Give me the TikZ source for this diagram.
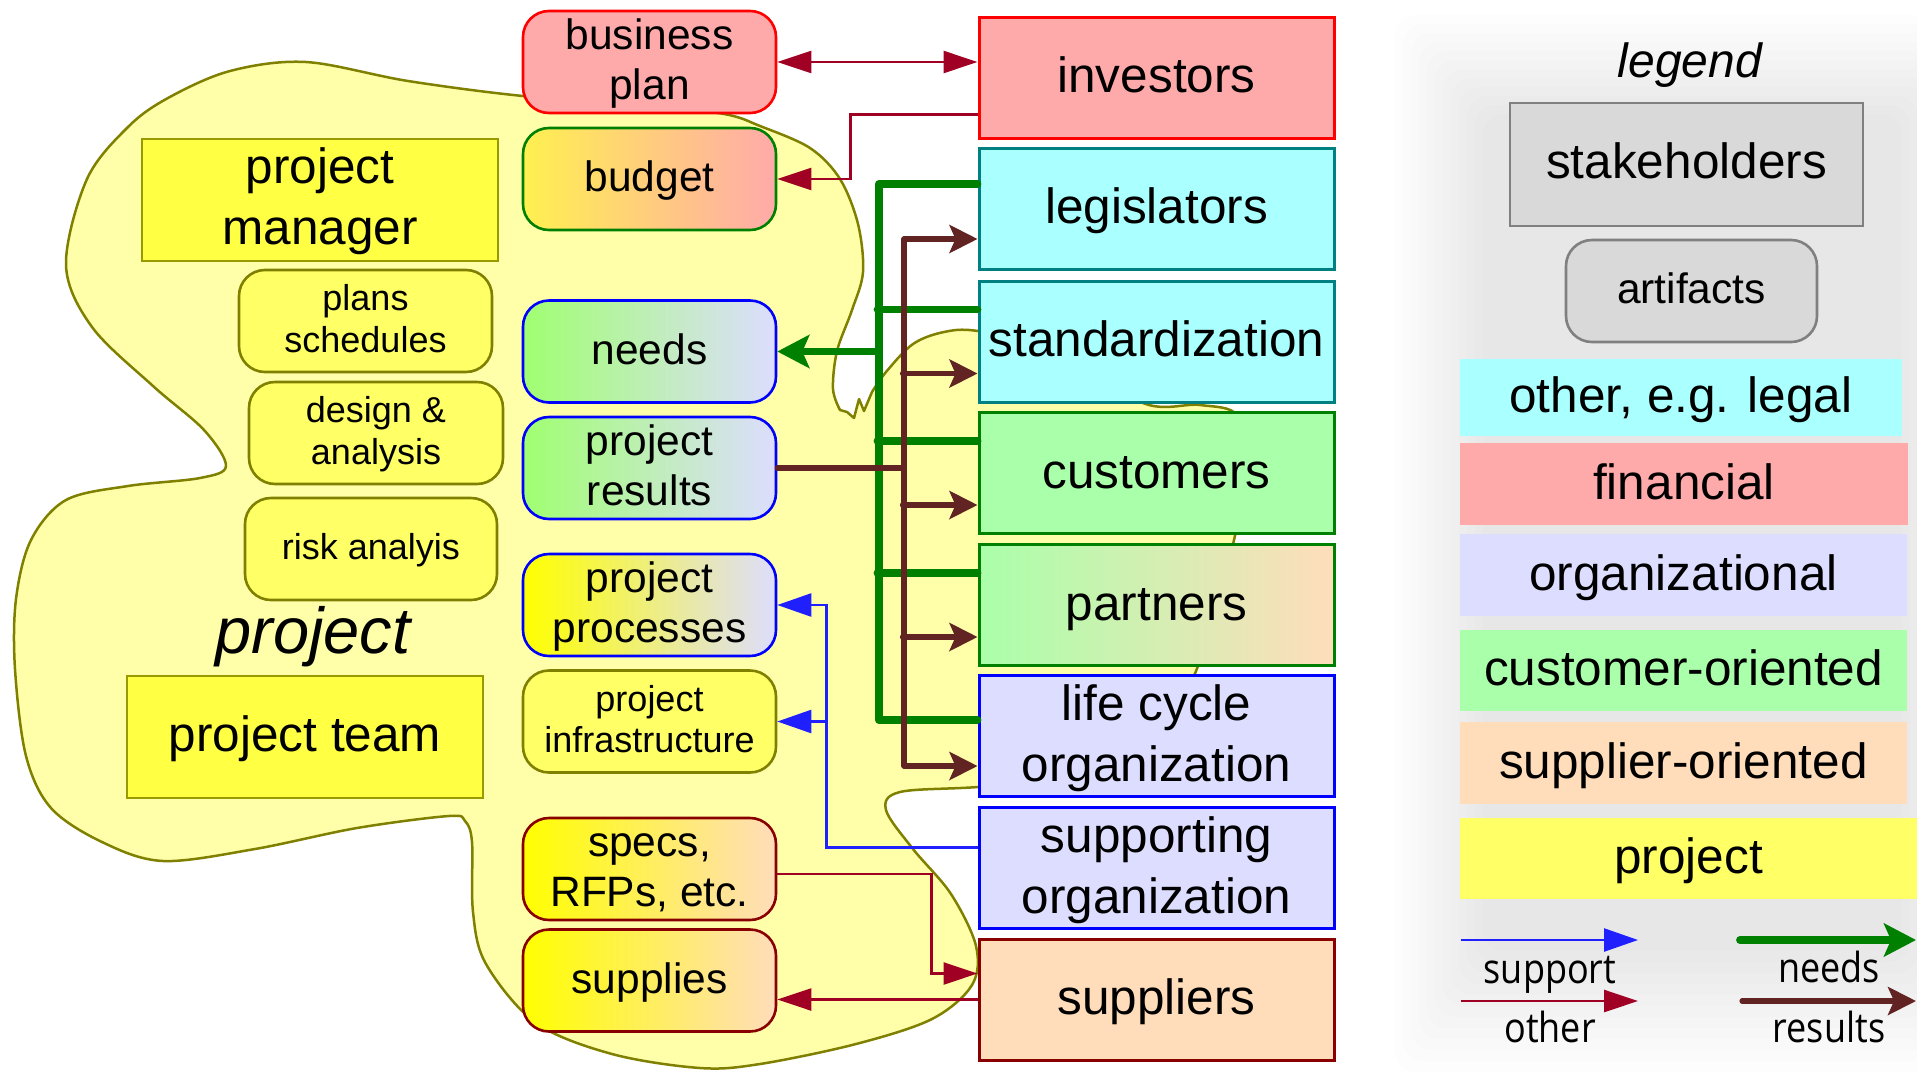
\documentclass[tikz,border=0pt]{standalone}
\usepackage{fontspec}
\usepackage{graphicx}
\setmainfont{Liberation Sans}
\newfontfamily\legfont{Open Sans}
\usetikzlibrary{arrows.meta,calc}
\definecolor{cPink}{HTML}{FFAAAA}
\definecolor{cRed}{HTML}{FF0000}
\definecolor{cCyan}{HTML}{AAFFFF}
\definecolor{cTeal}{HTML}{008080}
\definecolor{cLGreen}{HTML}{AAFFAA}
\definecolor{cGreen}{HTML}{008000}
\definecolor{cPeach}{HTML}{FFDDBB}
\definecolor{cLav}{HTML}{DDDDFF}
\definecolor{cBlue}{HTML}{0000FF}
\definecolor{cDRed}{HTML}{880000}
\definecolor{cBudL}{HTML}{FFF050}
\definecolor{cNeedL}{HTML}{A0FF70}
\definecolor{cYellow}{HTML}{FFFF00}
\definecolor{cYelA}{HTML}{FFFF66}
\definecolor{cYelB}{HTML}{FFFF44}
\definecolor{cOlive}{HTML}{808000}
\definecolor{cOliveB}{HTML}{999900}
\definecolor{cBlob}{HTML}{FFFFAA}
\definecolor{cOther}{RGB}{160,0,35}
\definecolor{cSup}{HTML}{2020FF}
\definecolor{cRes}{RGB}{98,36,34}
\definecolor{cGrayF}{HTML}{D9D9D9}
\definecolor{cGrayD}{HTML}{808080}
\newcommand\fsStake{\fontsize{49.5pt}{61pt}\selectfont}
\newcommand\fsArt{\fontsize{42.5pt}{50pt}\selectfont}
\newcommand\fsSmall{\fontsize{36pt}{41.5pt}\selectfont}
\newcommand\fsLeg{\legfont\fontsize{36pt}{40pt}\selectfont}
% fixed line metrics so that text is centred like the reference
\newcommand\stkT{\rule{0pt}{41pt}}\newcommand\stkB{\rule[-11pt]{0pt}{0pt}}
\newcommand\artT{\rule{0pt}{36pt}}\newcommand\artB{\rule[-11pt]{0pt}{0pt}}
\newcommand\smlT{\rule{0pt}{31pt}}\newcommand\smlB{\rule[-10pt]{0pt}{0pt}}
\newcommand\pmT{\rule{0pt}{39pt}}\newcommand\pmB{\rule[-11pt]{0pt}{0pt}}
\begin{document}
\begin{tikzpicture}[x=1pt,y=-1pt,
  stake/.style={draw, line width=3pt, minimum width=355pt, minimum height=121pt, inner sep=0pt, align=center, font=\fsStake},
  art/.style={draw, line width=2.6pt, rounded corners=26pt, minimum width=253pt, minimum height=102pt, inner sep=0pt, align=center, font=\fsArt},
  smallart/.style={art, font=\fsSmall, fill=cYelA, draw=cOlive},
  pbox/.style={draw=cOliveB, fill=cYelB, line width=2.6pt, minimum width=356pt, minimum height=122pt, inner sep=0pt, align=center, font=\fsStake},
  lbox/.style={minimum width=447pt, minimum height=82pt, inner sep=0pt, font=\fsStake},
  otherarr/.style={draw=cOther, line width=2.5pt, -{Triangle[length=34pt,width=22pt]}},
  suparr/.style={draw=cSup, line width=2.5pt, -{Triangle[length=34pt,width=23pt]}},
  nline/.style={draw=cGreen, line width=7.8pt, line cap=round, line join=round},
  narr/.style={nline, -{Stealth[length=32pt,width=33pt,inset=7pt]}},
  rline/.style={draw=cRes, line width=5.2pt, line cap=round, line join=round},
  rarr/.style={rline, -{Stealth[length=28pt,width=28pt,inset=6pt]}},
  blob/.style={draw=cOlive, fill=cBlob, line width=2.5pt, line join=round},
  legtxt/.style={anchor=base, inner sep=0pt, font=\fsLeg}
]
\useasboundingbox (0,0) rectangle (1917,1074);
\clip (0,0) rectangle (1917,1074);
\fill[white] (0,0) rectangle (1917,1074);

% project blob
\draw[blob] plot[smooth, tension=0.55] coordinates {
 (872,392) (886,372) (913,344) (944,332) (978,331) (1060,348) (1143,403) (1200,405) (1238,416)
 (1247,470) (1234,540) (1215,610) (1196,671) (1160,740) (1080,778) (978,787) (900,792) (886,810)
 (913,849) (951,894) (976,946) (972,985) (932,1019) (856,1044) (760,1064) (700,1068) (612,1054)
 (536,1023) (486,964) (473,912) (472,842) (465,821) (449,816) (357,828) (255,849) (163,861)
 (102,842) (51,808) (26,756) (15,669) (16,599) (31,540) (66,500) (128,486) (200,478) (226,466)
 (204,430) (153,386) (92,327) (66,265) (87,179) (128,127) (168,98) (230,71) (306,62) (408,81)
 (523,96) (640,104) (724,114) (760,126) (810,148) (840,179) (858,224) (863,272) (852,310)
 (837,351) (833,389) (840,410)}
 -- (847,412) -- (854,418) -- (859,399) -- (864,411) -- cycle;

% legend panel glow
\foreach \i in {0,...,11} {
  \pgfmathsetmacro\xl{1395+\i*8}
  \pgfmathsetmacro\yt{15+\i*9}
  \pgfmathsetmacro\yb{1072-\i*11}
  \pgfmathsetmacro\xr{1990-\i*8}
  \fill[black, opacity=0.009, rounded corners=20pt] (\xl,\yt) rectangle (\xr,\yb);
}

% stakeholders
\node[stake, fill=cPink, draw=cRed] (inv) at (1156.5,77.5) {\stkT investors\stkB};
\node[stake, fill=cCyan, draw=cTeal] (legis) at (1156.5,208.5) {\stkT legislators\stkB};
\node[stake, fill=cCyan, draw=cTeal] (std) at (1156.5,341.5) {\stkT standardization\stkB};
\node[stake, fill=cLGreen, draw=cGreen] (cust) at (1156.5,473) {\stkT customers\stkB};
\node[stake, left color=cLGreen, right color=cPeach, draw=cGreen] (part) at (1156.5,605) {\stkT partners\stkB};
\node[stake, fill=cLav, draw=cBlue] (lco) at (1156.5,736) {\stkT life cycle\\organization\stkB};
\node[stake, fill=cLav, draw=cBlue] (supp) at (1156.5,867.5) {\stkT supporting\\organization\stkB};
\node[stake, fill=cPeach, draw=cDRed] (suppl) at (1156.5,999.5) {\stkT suppliers\stkB};

% artifacts
\node[art, fill=cPink, draw=cRed] (bplan) at (649.5,62) {\artT business\\plan\artB};
\node[art, left color=cBudL, right color=cPink, draw=cGreen] (budget) at (649.5,179) {\artT budget\artB};
\node[art, left color=cNeedL, right color=cLav, draw=cBlue] (needs) at (649.5,351.5) {\artT needs\artB};
\node[art, left color=cNeedL, right color=cLav, draw=cBlue] (pres) at (649.5,468) {\artT project\\results\artB};
\node[art, left color=cYellow, right color=cLav, draw=cBlue] (pproc) at (649.5,605) {\artT project\\processes\artB};
\node[smallart] (pinfra) at (649.5,721.5) {\smlT project\\infrastructure\smlB};
\node[art, left color=cYellow, right color=cPeach, draw=cDRed] (specs) at (649.5,869) {\artT specs,\\RFPs, etc.\artB};
\node[art, left color=cYellow, right color=cPeach, draw=cDRed] (supplies) at (649.5,980.5) {\artT supplies\artB};

\node[pbox] (pm) at (320,200) {\pmT project\\manager\pmB};
\node[smallart] (plans) at (365.5,321) {\smlT plans\\schedules\smlB};
\node[smallart, minimum width=254pt] (design) at (376,433) {\smlT design \&\\analysis\smlB};
\node[smallart, minimum width=252pt] (risk) at (371,549) {\smlT risk analyis\smlB};
\node[anchor=base, inner sep=0pt, font=\fontsize{65pt}{70pt}\selectfont\itshape] (plabel) at (313,653) {project};
\node[pbox] (team) at (305,737) {\pmT project team\pmB};

% connectors: other (financial)
\draw[otherarr, {Triangle[length=34pt,width=22pt]}-{Triangle[length=34pt,width=22pt]}] (bplan.east) -- (bplan.east -| inv.west);
\draw[otherarr] ([yshift=25pt]inv.south west) -- ++(-127,0) |- (budget.east);
\draw[otherarr] ([yshift=-5pt]specs.east) -- ++(154,0) |- ([yshift=-36pt]suppl.north west);
\draw[otherarr] (suppl.west) -- (suppl.west -| supplies.east);

% support
\draw[suparr] ([yshift=20pt]supp.west) -- ++(-151,0) coordinate (bc) |- (pproc.east);
\draw[suparr] (bc |- pinfra.east) -- (pinfra.east);

% needs bus
\coordinate (gT) at (879,184);
\coordinate (gB) at (879,720);
\draw[nline] (legis.west |- gT) -- (gT) -- (gB) -- (lco.west |- gB);
\draw[nline] ([yshift=-30pt]std.north west) -- ++(-100,0);
\draw[nline] ([yshift=-30pt]cust.north west) -- ++(-100,0);
\draw[nline] ([yshift=-30pt]part.north west) -- ++(-100,0);
\draw[narr] (gT |- needs.east) -- (needs.east);

% results bus
\coordinate (rT) at (904,239);
\coordinate (rB) at (904,766);
\draw[rline] (rT) -- (rB);
\draw[rline] (pres.east) -- (pres.east -| rT);
\draw[rarr] (rT) -- (legis.west |- rT);
\draw[rarr] ([xshift=-75pt,yshift=30pt]std.south west) -- ([yshift=30pt]std.south west);
\draw[rarr] ([xshift=-75pt,yshift=30pt]cust.south west) -- ([yshift=30pt]cust.south west);
\draw[rarr] ([xshift=-75pt,yshift=30pt]part.south west) -- ([yshift=30pt]part.south west);
\draw[rarr] (rB) -- (lco.west |- rB);

% legend
\node[anchor=base, inner sep=0pt, font=\fontsize{48pt}{56pt}\selectfont\itshape] (leg) at (1690,77) {legend};
\node[draw=cGrayD, fill=cGrayF, line width=2.6pt, minimum width=353pt, minimum height=123pt, inner sep=0pt, font=\fsStake] (lstake) at (1686.5,164.5) {\rule{0pt}{39pt}stakeholders\rule[-11pt]{0pt}{0pt}};
\node[draw=cGrayD, fill=cGrayF, line width=2.6pt, rounded corners=26pt, minimum width=251pt, minimum height=102pt, inner sep=0pt, font=\fsArt] (lart) at (1691.5,291) {\artT artifacts\artB};
\node[lbox, fill=cCyan, minimum width=442pt, minimum height=77pt] (lother) at (1681,397.5) {\stkT other, e.g. legal\stkB};
\node[lbox, fill=cPink, minimum width=448pt] (lfin) at (1684,484) {\stkT financial\stkB};
\node[lbox, fill=cLav] (lorg) at (1683.5,575) {\stkT organizational\stkB};
\node[lbox, fill=cLGreen, minimum height=81pt] (lcust) at (1683.5,670.5) {\stkT customer-oriented\stkB};
\node[lbox, fill=cPeach] (lsupl) at (1683.5,763) {\stkT supplier-oriented\stkB};
\node[lbox, fill=cYelA, minimum width=457pt, minimum height=81pt] (lproj) at (1688.5,858.5) {\stkT project\stkB};

\coordinate (ls1) at (1461,940); \coordinate (ls2) at (1638,940);
\coordinate (lo1) at (1461,1001); \coordinate (lo2) at (1638,1001);
\coordinate (ln1) at (1740,940); \coordinate (ln2) at (1916,940);
\coordinate (lr1) at (1742,1001); \coordinate (lr2) at (1916,1001);
\draw[suparr] (ls1) -- (ls2);
\draw[otherarr] (lo1) -- (lo2);
\draw[narr] (ln1) -- (ln2);
\draw[rarr] (lr1) -- (lr2);
\node[legtxt] (tsup) at (1550,983) {\scalebox{1}[1.15]{support}};
\node[legtxt] (toth) at (1550,1042) {\scalebox{1}[1.15]{other}};
\node[legtxt] (tneed) at (1829,982) {\scalebox{1}[1.15]{needs}};
\node[legtxt] (tres) at (1829,1042) {\scalebox{1}[1.15]{results}};
\end{tikzpicture}
\end{document}
